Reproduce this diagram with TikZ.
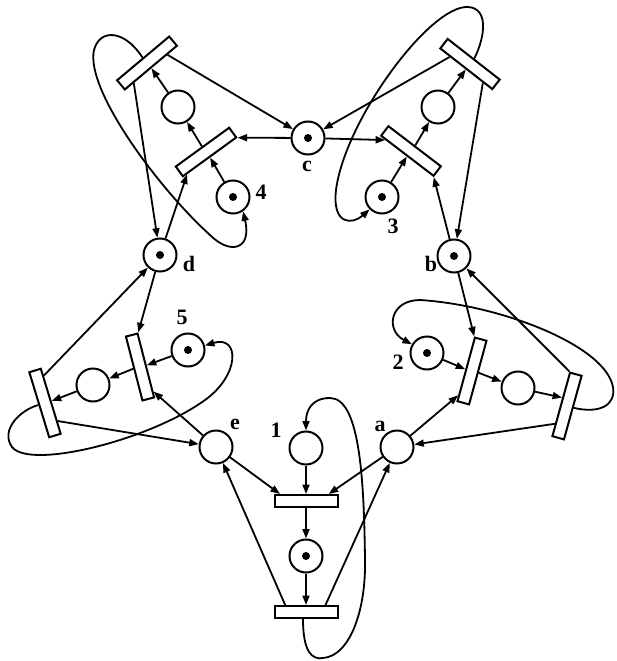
\documentclass[tikz,border=0pt]{standalone}
\usepackage{fontspec}
\setmainfont{Liberation Serif}
\usetikzlibrary{calc,arrows.meta}
\begin{document}
\begin{tikzpicture}[x=1pt,y=-1pt,
  place/.style={circle,draw,line width=2pt,minimum size=33pt,inner sep=0pt,fill=white},
  trans/.style={rectangle,draw,line width=2pt,minimum width=66pt,minimum height=12pt,inner sep=0pt,fill=white},
  flow/.style={line width=1.8pt,-{Triangle[length=9.5pt,width=7pt]}},
  loopline/.style={line width=1.8pt,-{Triangle[length=9.5pt,width=7pt]}},
  lbl/.style={font=\bfseries\fontsize{22}{22}\selectfont,inner sep=0pt}]
\useasboundingbox (0,0) rectangle (616,661);
% forks
\node[place] (e) at (216,447) {};
\node[place] (a) at (397,447) {};
\node[place] (b) at (454,256) {};
\node[place] (c) at (308,138) {};
\node[place] (d) at (160,255) {};
% philosophers
\node[place] (P1) at (306,448) {};
\node[place] (E1) at (306,556) {};
\node[place] (P2) at (427,353) {};
\node[place] (E2) at (518,388) {};
\node[place] (P3) at (382,197) {};
\node[place] (E3) at (438,107) {};
\node[place] (P4) at (233,197) {};
\node[place] (E4) at (178,107) {};
\node[place] (P5) at (188,350) {};
\node[place] (E5) at (93,385) {};
% tokens
\foreach \p in {b,c,d,E1,P2,P3,P4,P5} \fill (\p.center) circle (4pt);
% transitions
\node[trans,minimum width=63pt] (T11) at (306,501) {};
\node[trans,minimum width=63pt] (T12) at (306,612) {};
\node[trans,rotate=74.7] (T21) at (472,371) {};
\node[trans,rotate=74.5] (T22) at (567,406) {};
\node[trans,rotate=-37.4] (T31) at (411,151) {};
\node[trans,rotate=-38] (T32) at (470,64) {};
\node[trans,rotate=36] (T41) at (206,152) {};
\node[trans,rotate=40,minimum width=68pt] (T42) at (147,63) {};
\node[trans,rotate=104.5] (T51) at (140,367) {};
\node[trans,rotate=107,minimum width=68pt] (T52) at (45,403) {};
% labels
\node[lbl] (la) at (380,426) {a};
\node[lbl] (lb) at (431,264) {b};
\node[lbl] (lc) at (307,166) {c};
\node[lbl] (ld) at (189,264) {d};
\node[lbl] (le) at (235,424) {e};
\node[lbl] (l1) at (276,430) {1};
\node[lbl] (l2) at (398,362) {2};
\node[lbl] (l3) at (393,226) {3};
\node[lbl] (l4) at (261,192) {4};
\node[lbl] (l5) at (182,317) {5};
% philosopher 1
\draw[flow] (e) -- ($(T11.north west)!0.1!(T11.north east)$);
\draw[flow] (a) -- ($(T11.north west)!0.85!(T11.north east)$);
\draw[flow] (P1) -- (T11.north);
\draw[flow] (T11.south) -- (E1);
\draw[flow] (E1) -- (T12.north);
\draw[flow] ($(T12.north west)!0.18!(T12.north east)$) -- (e);
\draw[flow] ($(T12.north west)!0.8!(T12.north east)$) -- (a);
\draw[loopline] ($(T12.south)+(-3,0)$) .. controls (303,652) and (312,660) .. (323,658)
  .. controls (350,656) and (366,610) .. (365,560)
  .. controls (364,480) and (360,398) .. (330,398)
  .. controls (312,398) and (306,410) .. (P1.north);
% philosopher 2
\draw[flow] (b) -- (T21.north east);
\draw[flow] (P2) -- (T21.north);
\draw[flow] (T21.south) -- (E2);
\draw[flow] (a) -- ($(T21.north west)!0.1!(T21.north east)$);
\draw[flow] (E2) -- ($(T22.north)!0.2!(T22.north east)$);
\draw[flow] (T22.north east) -- (b);
\draw[flow] ($(T22.north west)!0.2!(T22.north east)$) -- (a);
\draw[loopline] (T22.south) .. controls (600,414) and (616,405) .. (613,387)
  .. controls (605,345) and (500,305) .. (420,300)
  .. controls (390,300) and (385,330) .. (P2.150);
% philosopher 3
\draw[flow] (c) -- ($(T31.south west)!0.1!(T31.south east)$);
\draw[flow] (P3) -- (T31.south);
\draw[flow] (T31.north) -- (E3);
\draw[flow] (b) -- (T31.south east);
\draw[flow] (E3) -- (T32.south);
\draw[flow] ($(T32.south west)!0.2!(T32.south east)$) -- (c);
\draw[flow] ($(T32.south east)!0.18!(T32.south west)$) -- (b);
\draw[loopline] (T32.north) .. controls (486,35) and (488,8) .. (468,7)
  .. controls (430,5) and (345,120) .. (336,190)
  .. controls (332,225) and (352,225) .. (P3.225);
% philosopher 4
\draw[flow] (c) -- (T41.south east);
\draw[flow] (P4) -- (T41.south);
\draw[flow] (T41.north) -- (E4);
\draw[flow] (d) -- ($(T41.south west)!0.08!(T41.south east)$);
\draw[flow] (E4) -- (T42.south);
\draw[flow] ($(T42.south west)!0.8!(T42.south east)$) -- (c);
\draw[flow] ($(T42.south west)!0.17!(T42.south east)$) -- (d);
\draw[loopline] (T42.north) .. controls (125,30) and (100,28) .. (94,50)
  .. controls (85,90) and (160,190) .. (210,235)
  .. controls (230,255) and (252,250) .. (P4.-55);
% philosopher 5
\draw[flow] (d) -- (T51.south east);
\draw[flow] (P5) -- (T51.south);
\draw[flow] (T51.north) -- (E5);
\draw[flow] (e) -- ($(T51.south west)!0.1!(T51.south east)$);
\draw[flow] (E5) -- (T52.south);
\draw[flow] ($(T52.south west)!0.88!(T52.south east)$) -- (d);
\draw[flow] ($(T52.south west)!0.2!(T52.south east)$) -- (e);
\draw[loopline] (T52.north) .. controls (20,410) and (0,430) .. (12,447)
  .. controls (30,470) and (150,440) .. (205,400)
  .. controls (240,375) and (240,335) .. (P5.15);
\end{tikzpicture}
\end{document}
